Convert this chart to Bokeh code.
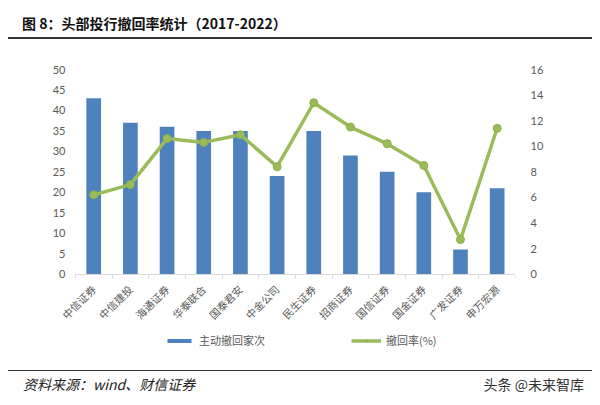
from bokeh.plotting import figure
from bokeh.models import (Range1d, LinearAxis, FixedTicker, Legend, LegendItem, Div, ColumnDataSource)
from bokeh.layouts import column
from bokeh.embed import file_html
from bokeh.resources import INLINE

# ---- data ----
banks = ["中信证券", "中信建投", "海通证券", "华泰联合", "国泰君安", "中金公司",
         "民生证券", "招商证券", "国信证券", "国金证券", "广发证券", "申万宏源"]
withdrawals = [43, 37, 36, 35, 35, 24, 35, 29, 25, 20, 6, 21]
rate_pct = [6.2, 7.0, 10.6, 10.3, 10.9, 8.4, 13.4, 11.5, 10.2, 8.5, 2.7, 11.4]
left_ticks = [0, 5, 10, 15, 20, 25, 30, 35, 40, 45, 50]
right_ticks = [0, 2, 4, 6, 8, 10, 12, 14, 16]

title_text = "图 8：头部投行撤回率统计（2017-2022）"
source_text = "资料来源：wind、财信证券"
mark_text = "头条 @未来智库"
bar_label = "主动撤回家次"
line_label = "撤回率(%)"

BLUE = "#4F81BD"
GREEN = "#9BBB59"
GRAY = "#595959"

# axis extents (room below zero holds the category labels and the legend)
LEFT_MAX, RIGHT_MAX = 50, 16
LEFT_MIN = -21.6
RIGHT_MIN = LEFT_MIN * RIGHT_MAX / LEFT_MAX
X_START, X_END = -0.96, 11.5

pos = list(range(len(banks)))
src = ColumnDataSource(dict(pos=pos, bank=banks, n=withdrawals, r=rate_pct))

p = figure(x_range=Range1d(X_START, X_END), y_range=Range1d(LEFT_MIN, LEFT_MAX),
           width=584, height=329, output_backend="svg", toolbar_location=None,
           min_border_left=50, min_border_right=77, min_border_top=28, min_border_bottom=8,
           sizing_mode="fixed")
p.outline_line_color = None
p.grid.visible = False
p.extra_y_ranges = {"rate": Range1d(RIGHT_MIN, RIGHT_MAX)}

bars = p.vbar(x="pos", top="n", bottom=0, width=0.4, source=src, fill_color=BLUE, line_color=None)
line = p.line(x="pos", y="r", source=src, y_range_name="rate", line_color=GREEN, line_width=3.5)
pts = p.scatter(x="pos", y="r", source=src, y_range_name="rate", size=8,
                fill_color=GREEN, line_color="#8DB04A", line_width=1)

# left axis
ya = p.yaxis[0]
ya.ticker = FixedTicker(ticks=left_ticks)
ya.axis_line_color = None
ya.major_tick_line_color = None
ya.major_tick_out = 0
ya.minor_tick_line_color = None
ya.major_label_standoff = -7
ya.major_label_text_font = "Lato"
ya.major_label_text_font_size = "11px"
ya.major_label_text_color = GRAY

# right axis
ra = LinearAxis(y_range_name="rate", ticker=FixedTicker(ticks=right_ticks))
ra.axis_line_color = None
ra.major_tick_line_color = None
ra.major_tick_out = 0
ra.minor_tick_line_color = None
ra.major_label_standoff = 15
ra.major_label_text_font = "Lato"
ra.major_label_text_font_size = "11px"
ra.major_label_text_color = GRAY
p.add_layout(ra, "right")

# x axis, pinned at zero
xa = p.xaxis[0]
xa.fixed_location = 0
xa.ticker = FixedTicker(ticks=pos, minor_ticks=[i - 0.5 for i in range(len(banks) + 1)])
xa.major_label_overrides = {i: b for i, b in zip(pos, banks)}
xa.bounds = (-0.5, len(banks) - 0.5)
xa.axis_line_color = "#D9D9D9"
xa.axis_line_width = 1
xa.major_tick_line_color = None
xa.major_tick_out = 0
xa.minor_tick_line_color = "#D9D9D9"
xa.minor_tick_out = 4
xa.minor_tick_in = 0
xa.major_label_orientation = 0.785398
xa.major_label_standoff = 9
xa.major_label_text_font = "Noto Sans CJK SC"
xa.major_label_text_font_size = "10.5px"
xa.major_label_text_color = GRAY

legend = Legend(items=[LegendItem(label=bar_label, renderers=[bars]),
                       LegendItem(label=line_label, renderers=[line, pts])],
                orientation="horizontal", location=(106, 14),
                border_line_color=None, background_fill_alpha=0,
                label_text_font="Noto Sans CJK SC", label_text_font_size="11px",
                label_text_color=GRAY, glyph_width=30, glyph_height=5,
                spacing=86, label_standoff=5, padding=0, margin=0)
p.add_layout(legend, "center")

title_div = Div(text=f'<div style="font-family:\'Noto Sans CJK SC\';font-weight:bold;font-size:14px;'
                     f'color:#111;padding-left:14px;line-height:31px;height:31px;'
                     f'border-bottom:2px solid #333;width:584px;">{title_text}</div>',
                width=584, height=33, margin=0)

footer_div = Div(text=f'<div style="display:flex;justify-content:space-between;width:584px;line-height:26px;'
                      f'border-top:1.5px solid #333;height:26px;">'
                      f'<span style="font-family:\'Noto Sans CJK SC\';font-style:italic;font-size:14px;'
                      f'color:#222;padding-left:15px;">{source_text}</span>'
                      f'<span style="font-family:\'Noto Sans CJK SC\';font-size:14px;color:#333;'
                      f'padding-right:8px;">{mark_text}</span></div>',
                 width=584, height=27, margin=0)

layout = column(title_div, p, footer_div, spacing=0, margin=(8, 8, 8, 8))
open("out.html", "w").write(file_html(layout, INLINE))
